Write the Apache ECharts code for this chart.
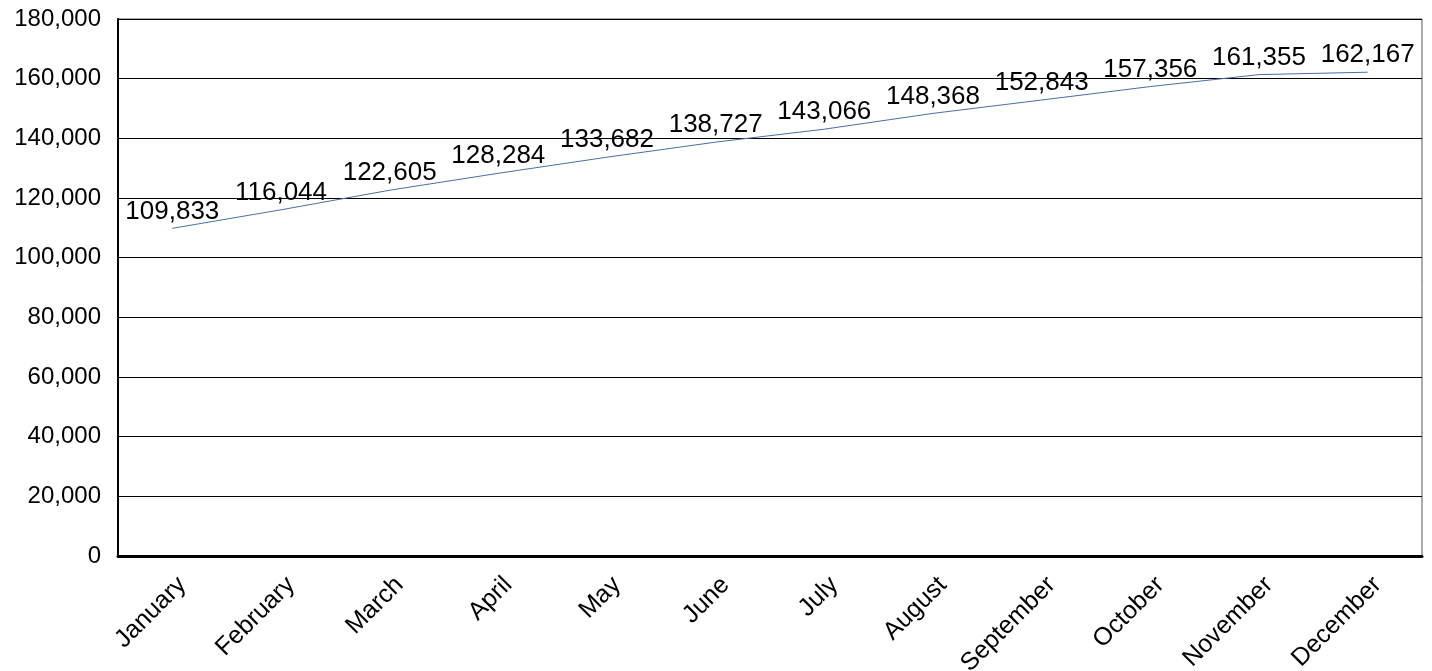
<!DOCTYPE html>
<html>
<head>
<meta charset="utf-8">
<script src="https://cdn.jsdelivr.net/npm/echarts@6/dist/echarts.min.js"></script>
<style>
html,body{margin:0;padding:0;background:#fff;}
#chart{width:1432px;height:671px;}
</style>
</head>
<body>
<div id="chart"></div>
<script>
const categories = ["January","February","March","April","May","June","July","August","September","October","November","December"];
const values = [109833,116044,122605,128284,133682,138727,143066,148368,152843,157356,161355,162167];
const yMin = 0, yMax = 180000, yInterval = 20000;

function fmt(v){ return String(v).replace(/\B(?=(\d{3})+(?!\d))/g, ","); }

const chart = echarts.init(document.getElementById('chart'), null, {renderer:'canvas'});
chart.setOption({
  animation:false,
  backgroundColor:'#ffffff',
  grid:{left:118,right:10,top:19,bottom:115,show:true,borderColor:'#555',borderWidth:1,containLabel:false,outerBoundsMode:'none'},
  xAxis:{
    type:'category',
    data:categories,
    boundaryGap:true,
    axisLine:{show:true,lineStyle:{color:'#000',width:3}},
    axisTick:{show:false},
    axisLabel:{rotate:45,fontFamily:'Liberation Sans, Arial, sans-serif',fontSize:25,color:'#000',margin:35,padding:[0,-14,0,0],interval:0},
    splitLine:{show:false}
  },
  yAxis:{
    type:'value',
    min:yMin,max:yMax,interval:yInterval,
    axisLine:{show:true,lineStyle:{color:'#000',width:2}},
    axisTick:{show:false},
    axisLabel:{fontFamily:'Liberation Sans, Arial, sans-serif',fontSize:24,color:'#000',margin:17,formatter:function(v){return fmt(v);}},
    splitLine:{show:true,lineStyle:{color:'#000',width:1}}
  },
  series:[{
    type:'line',
    data:values,
    symbol:'circle',
    symbolSize:2,
    showSymbol:true,
    showAllSymbol:true,
    itemStyle:{color:'rgba(74,110,166,0)',borderWidth:0},
    lineStyle:{color:'#4a6ea6',width:1},
    label:{show:true,position:'top',distance:3,fontFamily:'Liberation Sans, Arial, sans-serif',fontSize:26,color:'#000',formatter:function(p){return fmt(p.value);}},
    labelLayout:{hideOverlap:false}
  }]
});
</script>
</body>
</html>
